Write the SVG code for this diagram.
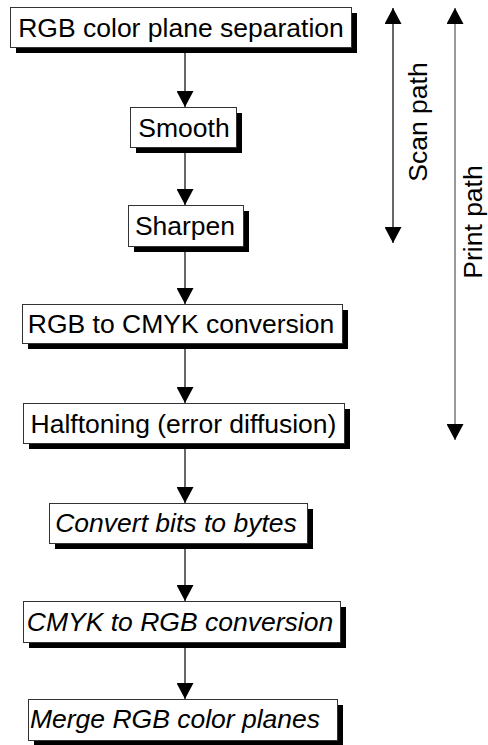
<svg xmlns="http://www.w3.org/2000/svg" width="488" height="745" viewBox="0 0 488 745">
<style>
.box{fill:#fff;stroke:#333;stroke-width:1}
.sh{fill:#000}
.t{font-family:"Liberation Sans",Arial,sans-serif;font-size:26.5px;fill:#000;text-anchor:middle}
.i{font-style:italic}
.c{stroke:#000;stroke-width:1.2;fill:none}
</style>
<defs>
<marker id="ah" markerUnits="userSpaceOnUse" markerWidth="16" markerHeight="17" viewBox="0 0 16 17" refX="16" refY="8.5" orient="auto-start-reverse">
<path d="M0,0 L16,8.5 L0,17 z" fill="#000"/>
</marker>
</defs>
<g id="connectors">
<line class="c" x1="185" y1="47" x2="185" y2="107" marker-end="url(#ah)"/>
<line class="c" x1="185" y1="147" x2="185" y2="205" marker-end="url(#ah)"/>
<line class="c" x1="185" y1="246" x2="185" y2="304" marker-end="url(#ah)"/>
<line class="c" x1="185" y1="343" x2="185" y2="403" marker-end="url(#ah)"/>
<line class="c" x1="185" y1="443" x2="185" y2="503" marker-end="url(#ah)"/>
<line class="c" x1="185" y1="543" x2="185" y2="601" marker-end="url(#ah)"/>
<line class="c" x1="185" y1="642" x2="185" y2="699" marker-end="url(#ah)"/>
<line class="c" x1="393" y1="8" x2="393" y2="243" stroke="#222" marker-start="url(#ah)" marker-end="url(#ah)"/>
<line class="c" x1="455" y1="8" x2="455" y2="440" style="stroke:#555" marker-start="url(#ah)" marker-end="url(#ah)"/>
</g>
<g id="n1">
<rect class="sh" x="16" y="13" width="341" height="40"/>
<rect class="box" x="10.5" y="7.5" width="341" height="40"/>
<text class="t" x="181" y="37">RGB color plane separation</text>
</g>
<g id="n2">
<rect class="sh" x="136" y="113" width="106" height="40"/>
<rect class="box" x="130.5" y="107.5" width="106" height="40"/>
<text class="t" x="184" y="137">Smooth</text>
</g>
<g id="n3">
<rect class="sh" x="134" y="211" width="115" height="41"/>
<rect class="box" x="128.5" y="205.5" width="115" height="41"/>
<text class="t" x="185" y="235">Sharpen</text>
</g>
<g id="n4">
<rect class="sh" x="28" y="310" width="320" height="39"/>
<rect class="box" x="22.5" y="304.5" width="320" height="39"/>
<text class="t" x="181" y="333">RGB to CMYK conversion</text>
</g>
<g id="n5">
<rect class="sh" x="29" y="409" width="321" height="40"/>
<rect class="box" x="23.5" y="403.5" width="321" height="40"/>
<text class="t" x="183.5" y="433">Halftoning (error diffusion)</text>
</g>
<g id="n6">
<rect class="sh" x="55" y="509" width="258" height="40"/>
<rect class="box" x="49.5" y="503.5" width="258" height="40"/>
<text class="t i" x="176" y="532">Convert bits to bytes</text>
</g>
<g id="n7">
<rect class="sh" x="29" y="607" width="317" height="41"/>
<rect class="box" x="23.5" y="601.5" width="317" height="41"/>
<text class="t i" x="180" y="631">CMYK to RGB conversion</text>
</g>
<g id="n8">
<rect class="sh" x="34" y="705" width="309" height="41"/>
<rect class="box" x="28.5" y="699.5" width="309" height="41"/>
<text class="t i" x="175" y="728">Merge RGB color planes</text>
</g>
<g id="labels">
<text class="t" transform="translate(427,122) rotate(-90)">Scan path</text>
<text class="t" transform="translate(482,222) rotate(-90)">Print path</text>
</g>
</svg>
